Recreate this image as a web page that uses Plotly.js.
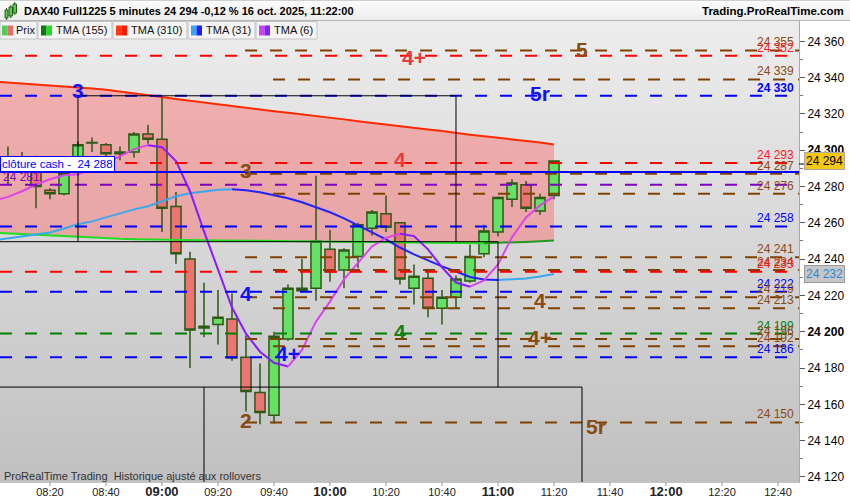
<!DOCTYPE html>
<html><head><meta charset="utf-8">
<script src="https://cdn.plot.ly/plotly-3.0.1.min.js"></script>
<style>
html,body{margin:0;padding:0;background:#fff;width:850px;height:500px;overflow:hidden}
#hdr{position:absolute;left:0;top:0;width:850px;height:21px;box-sizing:border-box;background:linear-gradient(#fcfcfc,#ededed);border-top:1px solid #d0d0d0;border-bottom:1px solid #b8b8b8}
#pbg{position:absolute;left:0;top:21px;width:799px;height:461px;background:linear-gradient(#ededed,#c0c0c0)}
#chart{position:absolute;left:0;top:0;width:850px;height:500px}
</style></head><body>
<div id="hdr"></div><div id="pbg"></div><div id="chart"></div>
<script>
// ---------- data ----------
const times = ['08:00','08:05','08:10','08:15','08:20','08:25','08:30','08:35','08:40','08:45','08:50','08:55',
  '09:00','09:05','09:10','09:15','09:20','09:25','09:30','09:35','09:40','09:45','09:50','09:55',
  '10:00','10:05','10:10','10:15','10:20','10:25','10:30','10:35','10:40','10:45','10:50','10:55',
  '11:00','11:05','11:10','11:15','11:20'];
const open  = [null,24292,24293,24289,24278,24276,24288,24304,24303,24298,24299,24309,
  24306,24269,24240,24202,24204,24207,24186,24166.5,24154,24196,24222.6,24224,
  24245.5,24234,24241.5,24257,24265,24260,24224,24229.5,24213,24219,24228,24243,
  24255,24273,24281,24266.5,24275];
const high  = [null,24302,24299,24297,24279,24289,24305,24307,24304,24302,24310,24314,
  24329,24277,24244,24227,24223,24221,24198,24182.5,24200,24226,24240,24286,
  24256,24246,24260,24267,24275,24260.5,24237,24234,24223,24231,24248,24259,
  24274.5,24284,24283,24276,24294.5];
const low   = [null,24281,24287,24268,24273,24275,24286,24299,24296,24294.5,24296,24303.5,
  24255,24237.5,24180,24197,24193,24184,24156,24149,24149.5,24195,24221.5,24217,
  24227.5,24224,24235,24253,24255,24226,24215,24208,24204,24213,24227,24241,
  24252.5,24268.7,24266,24264.5,24273];
const close = [null,24288,24290,24280,24276,24287,24303,24304.3,24298,24299,24309,24306,
  24268,24243,24201,24203,24208,24185.5,24167,24155.5,24197.5,24224,24224,24250,
  24233,24245,24259,24266,24257.5,24229,24230.5,24213,24219,24229,24241.5,24255.5,
  24274,24282,24268,24274,24294];
const tma155 = [24254.6,24254.2,24253.8,24253.3,24252.9,24252.5,24252.1,24251.8,24251.5,24251.2,24251.0,24250.8,
  24250.7,24250.6,24250.5,24250.4,24250.3,24250.2,24250.1,24250.0,24249.9,24249.9,24249.8,24249.8,
  24249.7,24249.7,24249.6,24249.5,24249.4,24249.3,24249.2,24249.1,24249.0,24248.9,24248.8,24248.8,
  24248.9,24249.2,24249.5,24249.8,24250.2];
const tma310 = [24337.8,24337.3,24336.8,24336.3,24335.8,24335.3,24334.6,24334.0,24333.3,24332.4,24331.4,24330.3,
  24329.3,24328.2,24327.2,24326.2,24325.2,24324.3,24323.4,24322.5,24321.5,24320.6,24319.8,24318.9,
  24318.0,24317.0,24316.0,24315.0,24314.0,24313.0,24312.2,24311.4,24310.6,24309.4,24308.5,24307.7,
  24306.9,24306.1,24305.3,24304.3,24303.2];
const tma31 = [24250.3,24251.4,24252.8,24253.9,24254.7,24256.9,24259.2,24260.8,24263.0,24265.2,24267.4,24269.1,
  24271.9,24274.6,24276.3,24277.4,24278.2,24278.5,24277.9,24276.8,24275.2,24273.5,24271.3,24268.5,
  24265.8,24262.5,24258.6,24254.7,24250.9,24246.4,24242.6,24239.3,24236.0,24233.2,24230.2,24228.8,
  24228.5,24228.8,24229.3,24230.4,24231.8];
const tma6 = [24272.3,24274.3,24277.4,24281.1,24284.0,24286.2,24286.8,24289.5,24292.8,24296.7,24300.6,24302.8,
  24301.7,24294.0,24277.4,24255.3,24234.3,24213.3,24198.9,24189.0,24182.9,24180.8,24190.0,24205.6,
  24216.6,24228.8,24237.6,24247.0,24251.7,24254.0,24252.7,24245.4,24235.4,24227.1,24224.8,24228.3,
  24237.1,24252.0,24263.0,24269.6,24274.6];
// horizontal levels and the indicator family each belongs to
const levelPrices = [24355,24352,24339,24330,24293,24287,24281,24276,24258,24241,24234,24233,24222,24219,24213,24199,24196,24192,24186,24150];
const levelFamily = ['S','R','S','B','R','S','P','S','B','S','S','R','B','S','S','G','S','S','B','S'];
const cashClose = 24288;
const lastPrice = 24294;
const lastTma31 = 24232;
const yTickVals = [24120,24140,24160,24180,24200,24220,24240,24260,24280,24300,24320,24340,24360];
const xTickTimes = ['08:20','08:40','09:00','09:20','09:40','10:00','10:20','10:40','11:00','11:20','11:40','12:00','12:20','12:40'];

// ---------- helpers ----------
const DAY = '2025-10-16 ';
const T = t => DAY + t;
const xs = times.map(T);
const FONT = 'Liberation Sans, Arial, sans-serif';
const PW = 799, PT = 21, PB = 482, PH = PB - PT;
const px = x => x / PW;
const py = y => (PB - y) / PH;
const X_RANGE = [T('08:02:09'), T('12:47:30')];
const Y_RANGE = [24117.2, 24371.2];
const ms = s => new Date(s.replace(' ', 'T') + 'Z').getTime();
const timePaper = t => (ms(T(t)) - ms(X_RANGE[0])) / (ms(X_RANGE[1]) - ms(X_RANGE[0]));
const fmt = v => { const s = String(v); return s.slice(0, s.length - 3) + ' ' + s.slice(-3); };
const famColor = {S:'#7f4100', R:'#ff0000', B:'#0000ff', G:'#008000', P:'#8000c0'};
const famText  = {S:'#8a4a12', R:'#ff1a1a', B:'#0000ff', G:'#108010', P:'#8000c0'};

function trendRuns(x, y, upColor, downColor, width) {
  const runs = []; let cur = null;
  for (let i = 0; i < y.length - 1; i++) {
    const up = y[i + 1] > y[i];
    if (!cur || cur.up !== up) { cur = {up, x:[x[i]], y:[y[i]]}; runs.push(cur); }
    cur.x.push(x[i + 1]); cur.y.push(y[i + 1]);
  }
  return runs.map(r => ({type:'scatter', mode:'lines', x:r.x, y:r.y, xaxis:'x2', yaxis:'y2', hoverinfo:'skip',
    line:{color: r.up ? upColor : downColor, width: width}}));
}

// ---------- traces ----------
const traces = [];
// band between TMA(155) and TMA(310) on the base subplot (below the candles)
traces.push({type:'scatter', mode:'lines', x:xs, y:tma155, line:{width:0, color:'rgba(0,0,0,0)'}, hoverinfo:'skip'});
traces.push({type:'scatter', mode:'lines', x:xs, y:tma310, line:{width:0, color:'rgba(0,0,0,0)'}, fill:'tonexty', fillcolor:'rgba(255,90,90,0.40)', hoverinfo:'skip'});
// candles and averages on the overlay subplot (above the band)
traces.push({type:'candlestick', x:xs, open:open, high:high, low:low, close:close, xaxis:'x2', yaxis:'y2', whiskerwidth:0, hoverinfo:'skip',
  increasing:{line:{color:'#2c5a14', width:1.5}, fillcolor:'#66e066'},
  decreasing:{line:{color:'#2c5a14', width:1.5}, fillcolor:'#ee7474'}});
traces.push(...trendRuns(xs, tma155, '#1f9a1f', '#22dd22', 2));
traces.push(...trendRuns(xs, tma310, '#ff4a1a', '#ff2a00', 2));
traces.push(...trendRuns(xs, tma31, '#3aa8ee', '#2222ff', 2));
traces.push(...trendRuns(xs, tma6, '#dd44ee', '#8a1aff', 2));

// ---------- shapes ----------
const shapes = [];
const shortStart = T('09:29:40'), longStart = T('09:39:40');
const longBrown = [24339, 24276, 24234, 24213, 24192];
levelPrices.forEach((p, i) => {
  const f = levelFamily[i];
  const col = famColor[f];
  if (f === 'S') {
    shapes.push({type:'line', xref:'x', yref:'y', layer:'above', x0: longBrown.includes(p) ? longStart : shortStart,
      x1: X_RANGE[1], y0:p, y1:p, line:{color:col, width:2, dash:'12px,13px'}});
  } else {
    shapes.push({type:'line', xref:'paper', yref:'y', layer:'above', x0:0, x1:1, y0:p, y1:p,
      line:{color:col, width:2, dash:'12px,13px'}});
  }
});
// cash close solid line
shapes.push({type:'line', xref:'paper', yref:'y', layer:'above', x0:0, x1:1, y0:cashClose, y1:cashClose, line:{color:'#0000ff', width:2}});
// black boxes
const BK = {color:'#000', width:1};
const yA = 24330, yB = 24249.6, yC = 24169.5;
shapes.push({type:'line', xref:'x', yref:'y', layer:'above', x0:T('08:30'), x1:T('10:45'), y0:yA, y1:yA, line:BK});
shapes.push({type:'line', xref:'x', yref:'y', layer:'above', x0:T('08:30'), x1:T('08:30'), y0:yA, y1:yB, line:BK});
shapes.push({type:'line', xref:'x', yref:'y', layer:'above', x0:T('10:45'), x1:T('10:45'), y0:yA, y1:yB, line:BK});
shapes.push({type:'line', xref:'x', yref:'y', layer:'above', x0:T('08:00'), x1:T('11:00'), y0:yB, y1:yB, line:BK});
shapes.push({type:'line', xref:'x', yref:'y', layer:'above', x0:T('11:00'), x1:T('11:00'), y0:yB, y1:yC, line:BK});
shapes.push({type:'line', xref:'x', yref:'y', layer:'above', x0:T('08:00'), x1:T('11:30'), y0:yC, y1:yC, line:BK});
shapes.push({type:'line', xref:'x', yref:'y', layer:'above', x0:T('09:15'), x1:T('09:15'), y0:yC, y1:24100, line:BK});
shapes.push({type:'line', xref:'x', yref:'y', layer:'above', x0:T('11:30'), x1:T('11:30'), y0:yC, y1:24100, line:BK});
// x-axis tick marks (drawn so the labels can sit close to the axis)
xTickTimes.forEach(t => shapes.push({type:'line', xref:'paper', yref:'paper', x0:timePaper(t), x1:timePaper(t),
  y0:py(482), y1:py(486), line:{color:'#999', width:1}}));
// tag ticks
shapes.push({type:'line', xref:'paper', yref:'paper', x0:1, x1:1 + 5 / PW, y0:py(164), y1:py(164), line:{color:'#000', width:1}});
// legend boxes & icons
const legBoxes = [[0,37],[38,112],[113,187],[188,255],[256,317]];
legBoxes.forEach(b => shapes.push({type:'rect', xref:'paper', yref:'paper', layer:'above',
  x0:px(b[0]), x1:px(b[1]), y0:py(39), y1:py(21.5), fillcolor:'#f4f4f4', line:{color:'#c4c4c4', width:1}}));
const icons = [[2,'#55cc55','#e86a6a'],[41,'#0a7a0a','#22dd22'],[116,'#ff3a10','#ff1800'],[191,'#33aaee','#2020ff'],[259,'#cc44ee','#8020ff']];
icons.forEach(ic => {
  shapes.push({type:'rect', xref:'paper', yref:'paper', layer:'above', x0:px(ic[0]), x1:px(ic[0] + 5.5), y0:py(35.5), y1:py(25.5), fillcolor:ic[1], line:{width:0}});
  shapes.push({type:'rect', xref:'paper', yref:'paper', layer:'above', x0:px(ic[0] + 5.5), x1:px(ic[0] + 11), y0:py(35.5), y1:py(25.5), fillcolor:ic[2], line:{width:0}});
});
// header icon (small candles)
[[5,8,10,18],[9,12.5,7,16],[13,16.5,4,13]].forEach(c => {
  shapes.push({type:'line', xref:'paper', yref:'paper', x0:px((c[0]+c[1])/2), x1:px((c[0]+c[1])/2), y0:py(c[3]+2), y1:py(c[2]-2), line:{color:'#2c5a14', width:1}});
  shapes.push({type:'rect', xref:'paper', yref:'paper', x0:px(c[0]), x1:px(c[1]), y0:py(c[3]), y1:py(c[2]), fillcolor:'#55cc55', line:{color:'#2c5a14', width:1}});
});

// ---------- annotations ----------
const ann = [];
const A = o => ann.push(Object.assign({showarrow:false, font:{family:FONT, size:12, color:'#000'}}, o));
// right-side level labels
levelPrices.forEach((p, i) => {
  const f = levelFamily[i];
  if (f === 'P') return;
  A({xref:'paper', yref:'y', x:px(796), y:p, xanchor:'right', yanchor:'bottom', yshift:-1,
     text: f === 'B' && p === 24330 ? '<b>' + fmt(p) + '</b>' : fmt(p), font:{family:FONT, size:12, color:famText[f]}});
});
// purple level label on the left
A({xref:'paper', yref:'y', x:0, y:24281, xanchor:'left', xshift:1, yanchor:'bottom', yshift:-1, text:fmt(24281), font:{family:FONT, size:12, color:'#8000c0'}});
// cash close label
A({xref:'paper', yref:'y', x:0, y:cashClose, xanchor:'left', yanchor:'bottom', yshift:0,
   text:'clôture cash -\u00a0 ' + fmt(cashClose), bgcolor:'#ffffff', bordercolor:'#0000ff', borderwidth:1, borderpad:1,
   font:{family:FONT, size:11.5, color:'#0000ff'}});
// big level tags
const big = [
  ['3','B','08:30',24333.4], ['4+','R','10:30',24351.9], ['5','S','11:30',24356], ['5r','B','11:15',24331.8],
  ['3','S','09:30',24289.3], ['4','R','10:25',24295.3], ['4','B','09:30',24221.6], ['4+','B','09:45',24188.5],
  ['2','S','09:30',24151.5], ['4','G','10:25',24200.6], ['4','S','11:15',24217.7], ['4+','S','11:15',24197.3],
  ['5r','S','11:35',24148.4]];
const bigCol = {B:'#1010ff', R:'#e83c3c', S:'#8a4a10', G:'#188018'};
big.forEach(b => A({xref:'x', yref:'y', x:T(b[2]), y:b[3], xanchor:'center', yanchor:'middle', yshift:-1,
  text:'<b>' + b[0] + '</b>', font:{family:FONT, size:21, color:bigCol[b[1]]}}));
// price tags on the axis
A({xref:'paper', yref:'y', x:1, xshift:5, y:lastPrice, xanchor:'left', yanchor:'middle', text:fmt(lastPrice),
   bgcolor:'#f6c80f', bordercolor:'#a8a8a8', borderwidth:1, borderpad:1, font:{family:FONT, size:12, color:'#000'}});
A({xref:'paper', yref:'y', x:1, xshift:5, y:lastTma31, xanchor:'left', yanchor:'middle', text:fmt(lastTma31),
   bgcolor:'#c6c6c6', bordercolor:'#9a9a9a', borderwidth:1, borderpad:1, font:{family:FONT, size:12, color:'#2a8ad6'}});
// header
A({xref:'paper', yref:'paper', x:px(22), y:py(11), xanchor:'left', yanchor:'middle',
   text:'<b>DAX40 Full1225 5 minutes 24 294 -0,12 % 16 oct. 2025, 11:22:00</b>', font:{family:FONT, size:11, color:'#000'}});
A({xref:'paper', yref:'paper', x:px(846), y:py(11), xanchor:'right', yanchor:'middle',
   text:'<b>Trading.ProRealTime.com</b>', font:{family:FONT, size:11.5, color:'#000'}});
// legend texts
const legTexts = [['Prix',15],['TMA (155)',55],['TMA (310)',130],['TMA (31)',205],['TMA (6)',273]];
legTexts.forEach(l => A({xref:'paper', yref:'paper', x:px(l[1] - 1), y:py(30.5), xanchor:'left', yanchor:'middle',
   text:l[0], font:{family:FONT, size:11, color:'#111'}}));
// footer
A({xref:'paper', yref:'paper', x:0, xshift:2, y:py(476), xanchor:'left', yanchor:'middle',
   text:'ProRealTime Trading\u00a0 Historique ajusté aux rollovers', font:{family:FONT, size:11, color:'#333'}});

// ---------- layout ----------
const boldY = [24200, 24300];
const layout = {
  width:850, height:500, margin:{l:0, r:51, t:21, b:18, pad:0},
  paper_bgcolor:'rgba(0,0,0,0)', plot_bgcolor:'rgba(0,0,0,0)',
  showlegend:false, hovermode:false, dragmode:false, boxgap:0.15, boxgroupgap:0.15,
  font:{family:FONT, size:12, color:'#000'},
  xaxis:{type:'date', range:X_RANGE, rangeslider:{visible:false},
    tickmode:'array', tickvals:xTickTimes.map(T),
    ticktext:xTickTimes.map(t => t.endsWith(':00') ? '<b><span style="font-size:13px">' + t + '</span></b>' : t),
    ticks:'', tickfont:{family:FONT, size:11, color:'#222'},
    showline:true, linecolor:'#c4c4c4', showgrid:false, zeroline:false, fixedrange:true},
  xaxis2:{type:'date', overlaying:'x', range:X_RANGE, rangeslider:{visible:false}, visible:false, fixedrange:true},
  yaxis:{side:'right', range:Y_RANGE, tickmode:'array', tickvals:yTickVals,
    ticktext:yTickVals.map(v => boldY.includes(v) ? '<b>' + fmt(v) + '</b>' : fmt(v)),
    ticks:'outside', ticklen:5, tickcolor:'#555', tickfont:{family:FONT, size:12, color:'#000'},
    minor:{tickmode:'array', tickvals:yTickVals.map(v => v + 10).filter(v => v < 24370), ticks:'outside', ticklen:3, tickcolor:'#777'},
    showline:true, linecolor:'#a8a8a8', showgrid:false, zeroline:false, fixedrange:true},
  yaxis2:{overlaying:'y', side:'right', range:Y_RANGE, visible:false, fixedrange:true},
  shapes:shapes, annotations:ann
};
Plotly.newPlot('chart', traces, layout, {staticPlot:true, displayModeBar:false});
</script>
</body></html>
